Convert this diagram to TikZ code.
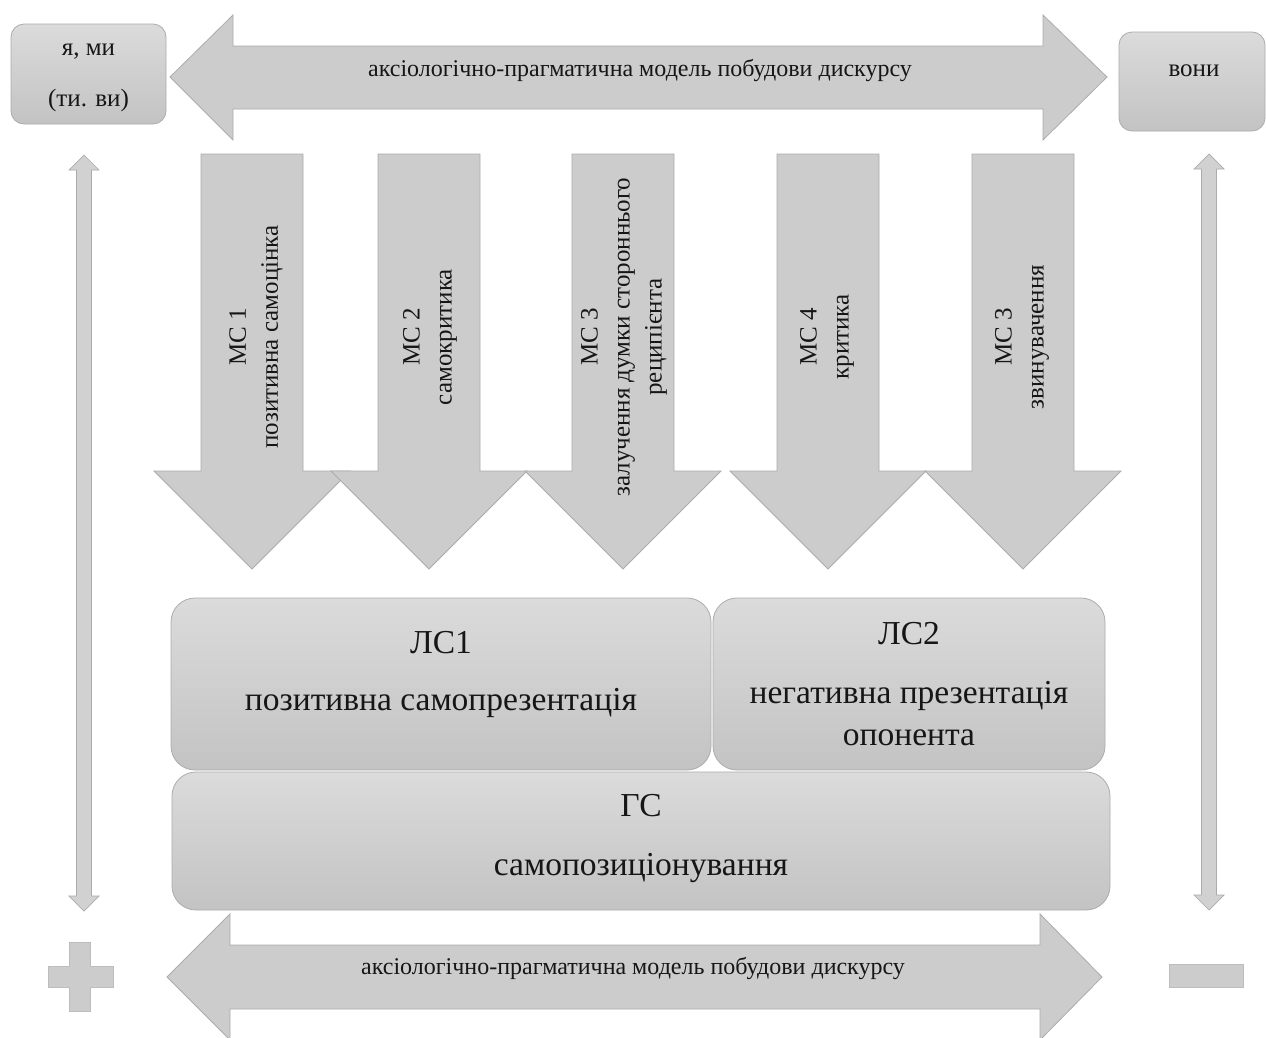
\documentclass[tikz,border=0pt]{standalone}
\usepackage{fontspec}
\setmainfont{Liberation Serif}
\definecolor{afill}{RGB}{204,204,204}
\definecolor{aedge}{RGB}{172,172,172}
\definecolor{btop}{RGB}{219,219,219}
\definecolor{bbot}{RGB}{195,195,195}
\definecolor{txt}{RGB}{22,22,22}
\newcommand\MCarrow[2]{%
  \draw[bigarrow] ({#1-51},154) -- ({#1+51},154) -- ({#1+51},471) -- ({#1+98},471)
    -- (#1,569) -- ({#1-98},471) -- ({#1-51},471) -- cycle;
  \coordinate (#2) at (#1,337);}
\begin{document}
\begin{tikzpicture}[x=1pt,y=-1pt,
  bigarrow/.style={fill=afill,draw=aedge,line width=0.8pt,line join=miter},
  thinarrow/.style={fill=afill!90!white,draw=aedge,line width=0.7pt},
  box/.style={draw=aedge,line width=0.8pt,top color=btop,bottom color=bbot,inner sep=0pt},
  smallbox/.style={box,rounded corners=13pt},
  bigbox/.style={box,rounded corners=24pt},
  lbl/.style={text=txt,inner sep=0pt,font=\fontsize{25}{30}\selectfont},
  axis/.style={text=txt,inner sep=0pt,font=\fontsize{24}{28}\selectfont},
  mclbl/.style={text=txt,inner sep=0pt,rotate=90,align=center,font=\fontsize{25}{32}\selectfont},
  lslbl/.style={text=txt,inner sep=0pt,font=\fontsize{33.5}{42}\selectfont},
  sign/.style={fill=afill,draw=aedge!80!white,line width=0.6pt}]
\useasboundingbox (0,0) rectangle (1266,1037);
\fill[white] (0,0) rectangle (1266,1037);

% top double arrow
\draw[bigarrow] (170,77) -- (233,15) -- (233,46) -- (1043,46) -- (1043,15) -- (1107,77)
  -- (1043,140) -- (1043,109) -- (233,109) -- (233,140) -- cycle;
\node[axis] (topaxis) at (640,70) {аксіологічно-прагматична модель побудови дискурсу};

% side boxes
\node[smallbox,minimum width=155pt,minimum height=100pt] (we) at (88.5,74) {};
\node[lbl] (we1) at (88.5,52) {я, ми};
\node[lbl] (we2) at (88.5,100) {(ти. ви)};
\node[smallbox,minimum width=146pt,minimum height=99pt] (they) at (1192,81.5) {};
\node[lbl] (they1) at (1194,71) {вони};

% vertical thin double arrows
\draw[thinarrow] (84,155) -- (99,170) -- (91.5,170) -- (91.5,896) -- (99,896) -- (84,911)
  -- (69,896) -- (76.5,896) -- (76.5,170) -- (69,170) -- cycle;
\draw[thinarrow] (1209,154) -- (1224,169) -- (1216.5,169) -- (1216.5,895) -- (1224,895) -- (1209,910)
  -- (1194,895) -- (1201.5,895) -- (1201.5,169) -- (1194,169) -- cycle;

% down arrows
\MCarrow{252}{c1}
\MCarrow{429}{c2}
\MCarrow{623}{c3}
\MCarrow{828}{c4}
\MCarrow{1023}{c5}
\node[mclbl] (m1) at (256,337) {МС 1\\позитивна самоцінка};
\node[mclbl] (m2) at (430,337) {МС 2\\самокритика};
\node[mclbl] (m3) at (624,337) {МС 3\\залучення думки стороннього\\реципієнта};
\node[mclbl] (m4) at (827,337) {МС 4\\критика};
\node[mclbl] (m5) at (1022,337) {МС 3\\звинувачення};

% LS boxes
\node[bigbox,minimum width=540pt,minimum height=172pt] (ls1) at (441,684) {};
\node[bigbox,minimum width=392pt,minimum height=172pt] (ls2) at (909,684) {};
\node[bigbox,minimum width=938pt,minimum height=138pt] (gs) at (641,841) {};
\node[lslbl] (ls1a) at (441,643) {ЛС1};
\node[lslbl] (ls1b) at (441,703) {позитивна самопрезентація};
\node[lslbl] (ls2a) at (909,634) {ЛС2};
\node[lslbl] (ls2b) at (909,696) {негативна презентація};
\node[lslbl] (ls2c) at (909,738) {опонента};
\node[lslbl] (gsa) at (641,806) {ГС};
\node[lslbl] (gsb) at (641,868) {самопозиціонування};

% bottom double arrow
\draw[bigarrow] (167,977) -- (230,914) -- (230,945) -- (1040,945) -- (1040,914) -- (1102,977)
  -- (1040,1040) -- (1040,1009) -- (230,1009) -- (230,1040) -- cycle;
\node[axis] (botaxis) at (633,968) {аксіологічно-прагматична модель побудови дискурсу};

% plus and minus
\draw[sign] (69,942) -- (90,942) -- (90,966) -- (113,966) -- (113,987) -- (90,987) -- (90,1011)
  -- (69,1011) -- (69,987) -- (48,987) -- (48,966) -- (69,966) -- cycle;
\draw[sign] (1169,964) rectangle (1243,987);
\end{tikzpicture}
\end{document}
